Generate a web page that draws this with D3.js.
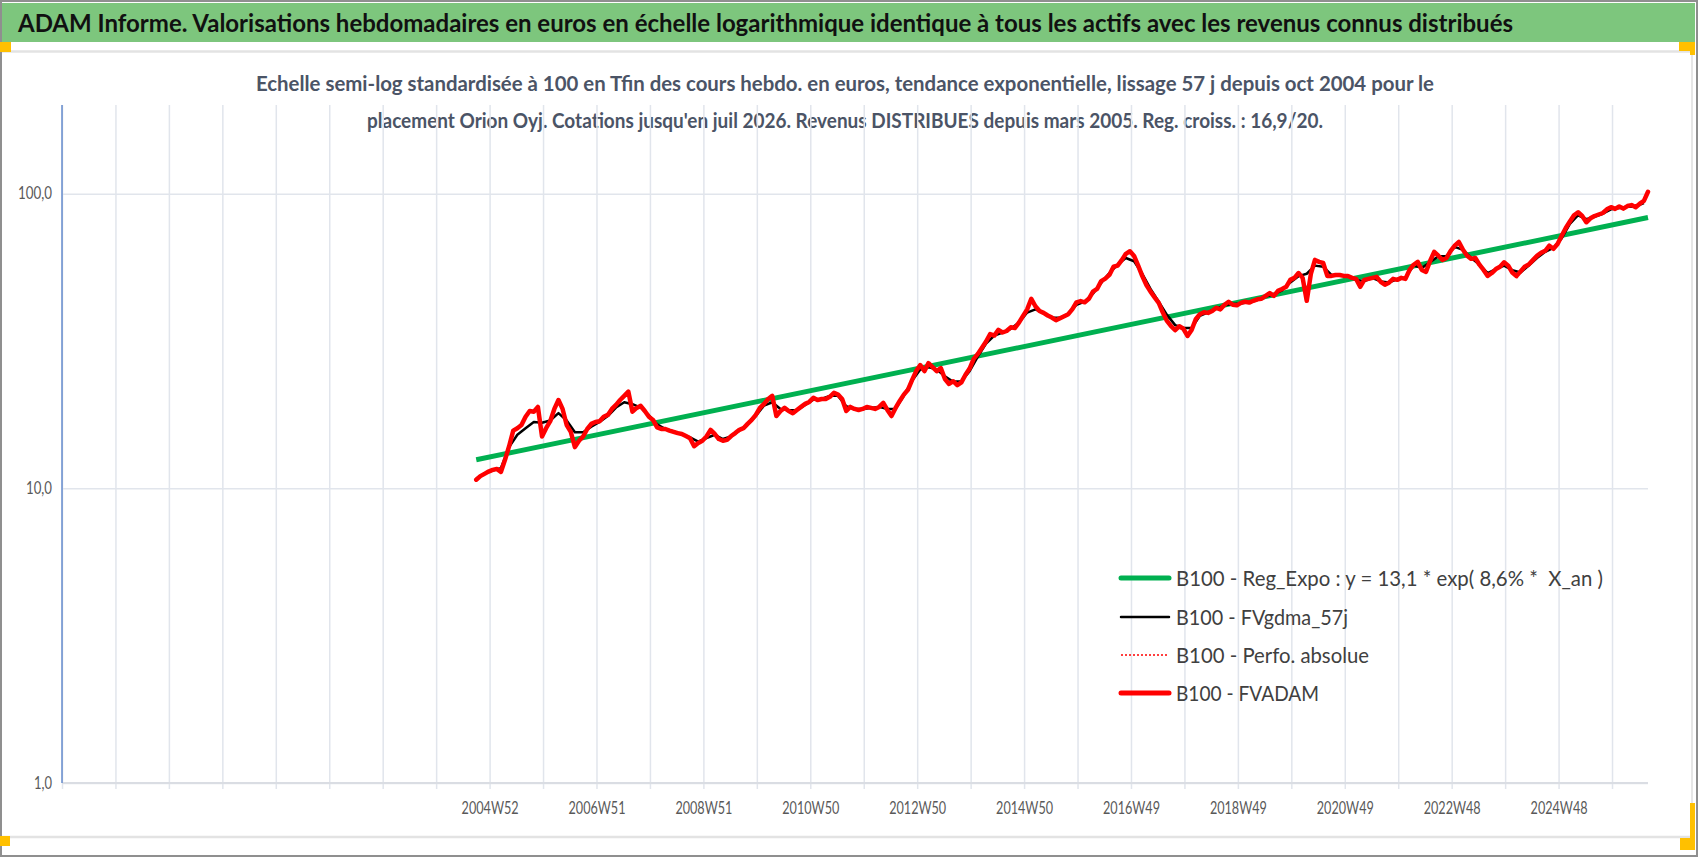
<!DOCTYPE html>
<html><head><meta charset="utf-8">
<script src="https://cdn.jsdelivr.net/npm/d3@7"></script>
<style>html,body{margin:0;padding:0;background:#fff;overflow:hidden}text{white-space:pre}</style>
</head><body><svg id="c" width="1698" height="857"></svg>
<script>
// ---------------- data ----------------
const titleText = "ADAM Informe. Valorisations hebdomadaires en euros en échelle logarithmique identique à tous les actifs avec les revenus connus distribués";
const subtitleLines = [
  "Echelle semi-log standardisée à 100 en Tfin des cours hebdo. en euros, tendance exponentielle, lissage 57 j depuis oct 2004 pour le",
  "placement Orion Oyj. Cotations jusqu'en juil 2026. Revenus DISTRIBUES depuis mars 2005. Reg. croiss. : 16,9/20."
];
// x axis: weekly categories (index in weeks from the start of the category axis)
const axisWeeks = [0, 1543];
const gridStepWeeks = 52;
const xTickWeeks = [416, 520, 624, 728, 832, 936, 1040, 1144, 1248, 1352, 1456];
const xTickLabels = ["2004W52","2006W51","2008W51","2010W50","2012W50","2014W50","2016W49","2018W49","2020W49","2022W48","2024W48"];
const yDomain = [1, 200];
const yTickValues = [1, 10, 100];
const yTickLabels = ["1,0", "10,0", "100,0"];
const legendLabels = [
  "B100 - Reg_Expo : y = 13,1 * exp( 8,6% *  X_an )",
  "B100 - FVgdma_57j",
  "B100 - Perfo. absolue",
  "B100 - FVADAM"
];
// B100 - FVADAM : one value every 4 weeks from week 403
const fvadamStartWeek = 403, fvadamStepWeeks = 4;
const fvadamValues = [
 10.7, 11.0, 11.2, 11.4, 11.55, 11.64, 11.37, 12.5, 13.9, 15.7,
 16.0, 16.4, 17.5, 18.3, 18.2, 18.9, 15.0, 16.0, 16.9, 18.6,
 19.95, 18.6, 16.4, 15.55, 13.8, 14.5, 15.0, 15.9, 16.55, 16.8,
 16.9, 17.5, 17.75, 18.6, 19.2, 19.95, 20.6, 21.3, 18.2, 18.75,
 19.05, 18.3, 17.5, 17.07, 16.1, 15.9, 15.9, 15.7, 15.55, 15.4,
 15.3, 15.05, 14.8, 13.9, 14.25, 14.5, 15.0, 15.8, 15.3, 14.7,
 14.5, 14.6, 15.05, 15.4, 15.8, 16.0, 16.55, 17.07, 17.75, 18.75,
 19.35, 20.1, 20.6, 17.6, 18.3, 18.75, 18.3, 18.0, 18.45, 18.9,
 19.35, 19.65, 20.3, 19.95, 20.1, 20.1, 20.45, 21.1, 20.8, 20.1,
 18.3, 18.9, 18.6, 18.45, 18.6, 18.9, 18.75, 18.6, 18.9, 19.5,
 18.45, 17.6, 18.75, 19.8, 20.8, 21.6, 23.3, 25.0, 26.2, 25.0,
 26.6, 25.8, 25.0, 25.6, 23.5, 22.6, 23.1, 22.4, 22.9, 24.3,
 25.5, 27.5, 28.6, 30.0, 31.5, 33.4, 33.0, 34.5, 33.8, 34.2,
 35.2, 35.0, 36.5, 38.5, 40.5, 44.0, 41.5, 40.0, 39.4, 38.6,
 38.0, 37.2, 37.8, 38.4, 39.0, 40.6, 42.8, 43.2, 42.8, 44.0,
 46.5, 47.5, 50.5, 51.5, 53.0, 56.5, 57.0, 59.5, 62.5, 63.8,
 61.5, 57.0, 52.5, 49.0, 46.5, 44.5, 42.6, 39.5, 37.0, 35.5,
 34.4, 35.5, 34.8, 32.9, 34.5, 37.5, 39.0, 39.6, 39.4, 40.0,
 41.0, 40.5, 42.0, 43.0, 42.0, 41.8, 42.6, 43.0, 42.7, 43.3,
 43.8, 44.0, 45.0, 46.0, 45.0, 46.8, 47.5, 48.3, 51.0, 51.8,
 53.8, 51.8, 43.3, 53.4, 59.6, 58.7, 58.2, 52.6, 52.6, 53.0,
 53.0, 52.6, 52.6, 51.8, 51.4, 48.3, 51.0, 51.4, 51.8, 52.2,
 50.2, 49.1, 49.9, 51.4, 51.0, 51.8, 51.4, 55.1, 57.4, 58.7,
 55.1, 54.3, 59.1, 63.5, 61.6, 59.6, 60.5, 64.0, 66.6, 68.6,
 64.5, 61.6, 60.1, 60.5, 57.4, 55.1, 52.6, 53.8, 55.5, 56.5,
 58.5, 57.0, 54.0, 52.5, 54.5, 56.5, 57.5, 59.5, 61.5, 63.0,
 64.0, 66.6, 65.0, 67.5, 72.0, 76.5, 80.5, 84.5, 86.5, 84.0,
 80.0, 82.5, 84.0, 85.0, 86.0, 88.5, 90.0, 88.8, 90.5, 89.0,
 90.8, 91.5, 90.0, 92.5, 94.5, 101.5
];
// B100 - Perfo. absolue (same path as FVADAM, drawn dotted underneath)
const perfoValues = fvadamValues.slice();
// B100 - FVgdma_57j : one value every 8 weeks from week 403
const gdmaStartWeek = 403, gdmaStepWeeks = 8;
const gdmaValues = [
 10.8, 11.2, 11.5, 11.7, 13.8, 15.2, 16.0, 16.8, 16.7, 17.0,
 18.0, 17.0, 15.5, 15.5, 16.2, 16.8, 17.6, 18.8, 19.6, 19.3,
 18.8, 17.7, 16.5, 15.9, 15.6, 15.3, 14.9, 14.4, 14.8, 15.2,
 14.7, 15.0, 15.7, 16.5, 17.6, 19.1, 19.6, 18.6, 18.4, 18.4,
 19.2, 20.0, 20.1, 20.6, 20.6, 19.0, 18.6, 18.6, 18.75, 18.9,
 18.6, 18.6, 20.6, 23.2, 25.3, 25.8, 25.3, 24.0, 23.0, 23.1,
 25.0, 28.0, 31.0, 33.0, 33.8, 34.8, 36.5, 39.5, 40.5, 39.3,
 38.0, 37.9, 39.0, 42.0, 43.0, 45.8, 49.8, 53.8, 57.5, 60.5,
 59.0, 53.5, 47.5, 43.0, 38.8, 35.8, 35.0, 35.0, 38.5, 39.6,
 40.7, 41.8, 42.2, 42.4, 42.9, 43.6, 44.8, 45.5, 47.0, 50.0,
 52.5, 53.5, 57.0, 56.5, 53.0, 53.0, 52.5, 51.0, 50.5, 51.7,
 50.4, 50.0, 51.2, 52.0, 57.0, 56.0, 58.5, 61.3, 61.5, 66.0,
 64.5, 60.5, 57.5, 53.8, 55.5, 57.0, 55.0, 54.0, 57.0, 60.5,
 63.5, 65.5, 70.5, 79.0, 84.5, 82.0, 83.5, 85.5, 88.5, 89.5,
 90.3, 90.5, 93.0
];
// B100 - Reg_Expo (straight on the log scale)
const regWeeks = [403, 1543];
const regValues = [12.5, 83.0];

// ---------------- drawing ----------------
const svg = d3.select("#c");
const FONT = "Lato, 'Open Sans', 'Noto Sans', sans-serif";
const W = 1698, H = 857;
const plot = {left: 62, right: 1648, top: 105, bottom: 783};

const x = d3.scaleLinear().domain(axisWeeks).range([plot.left, plot.right]);
const y = d3.scaleLog().domain(yDomain).range([plot.bottom, plot.top]);

// background & frames
svg.append("rect").attr("x",0).attr("y",0).attr("width",W).attr("height",H).attr("fill","#fff");
svg.append("rect").attr("x",2).attr("y",3).attr("width",1693).attr("height",39).attr("fill","#7dc67d");
svg.append("line").attr("x1",0).attr("x2",1692).attr("y1",51.5).attr("y2",51.5).attr("stroke","#e3e3e3").attr("stroke-width",2.5);
svg.append("line").attr("x1",1692).attr("x2",1692).attr("y1",51).attr("y2",838).attr("stroke","#dedede").attr("stroke-width",1.5);
svg.append("line").attr("x1",0).attr("x2",1692).attr("y1",837).attr("y2",837).attr("stroke","#e3e3e3").attr("stroke-width",2.5);
svg.append("rect").attr("x",1).attr("y",1).attr("width",W-2).attr("height",H-2).attr("fill","none").attr("stroke","#8f8f8f").attr("stroke-width",2);
const orange = "#ffc000";
[[0,42,11,10],[1679,42,16,9],[1690,42,5,13],[1690,803,5,36],[1680,838,15,12],[0,836,10,10]].forEach(r=>{
  svg.append("rect").attr("x",r[0]).attr("y",r[1]).attr("width",r[2]).attr("height",r[3]).attr("fill",orange);
});

// title
svg.append("text").attr("x",18).attr("y",32).attr("font-family",FONT).attr("font-size",24).attr("font-weight",700)
  .attr("fill","#111").attr("textLength",1495).attr("lengthAdjust","spacingAndGlyphs").text(titleText);
const subW = [1178, 956];
const subY = [91, 128];
subtitleLines.forEach((t,i)=>{
  svg.append("text").attr("x",845 - subW[i]/2).attr("y",subY[i]).attr("font-family",FONT).attr("font-size",21)
    .attr("font-weight",700).attr("fill","#4b5466").attr("textLength",subW[i]).attr("lengthAdjust","spacingAndGlyphs").text(t);
});

// grid
const gridWeeks = d3.range(axisWeeks[0], axisWeeks[1], gridStepWeeks);
const gx = svg.append("g").attr("transform",`translate(0,${plot.bottom})`)
  .call(d3.axisBottom(x).tickValues(gridWeeks).tickFormat("").tickSizeOuter(0));
gx.select(".domain").remove();
gx.selectAll(".tick line").attr("y1",6).attr("y2",plot.top-plot.bottom).attr("stroke","#e1e5ec").attr("stroke-width",1.5);

const gy = svg.append("g").attr("transform",`translate(${plot.left},0)`)
  .call(d3.axisLeft(y).tickValues(yTickValues).tickFormat("").tickSize(-(plot.right-plot.left)).tickSizeOuter(0));
gy.select(".domain").remove();
gy.selectAll(".tick line").attr("stroke","#e1e5ec").attr("stroke-width",1.5);
// x axis line
svg.append("line").attr("x1",plot.left).attr("x2",plot.right).attr("y1",plot.bottom).attr("y2",plot.bottom).attr("stroke","#dadde3").attr("stroke-width",2);
// y axis line
svg.append("line").attr("x1",plot.left).attr("x2",plot.left).attr("y1",plot.top).attr("y2",plot.bottom).attr("stroke","#4472c4").attr("stroke-width",1.2);

// y labels
const yLabelW = [18, 26, 34];
const yl = svg.append("g").attr("transform",`translate(${plot.left},0)`)
  .call(d3.axisLeft(y).tickValues(yTickValues).tickFormat((d,i)=>yTickLabels[i]).tickSize(0).tickPadding(10));
yl.select(".domain").remove();
yl.selectAll("text").attr("font-family",FONT).attr("font-size",16.5).attr("fill","#595959")
  .attr("textLength",(d,i)=>yLabelW[i]).attr("lengthAdjust","spacingAndGlyphs");

// x labels
const xl = svg.append("g").attr("transform",`translate(0,${plot.bottom})`)
  .call(d3.axisBottom(x).tickValues(xTickWeeks).tickFormat((d,i)=>xTickLabels[i]).tickSize(0));
xl.select(".domain").remove();
xl.selectAll("text").attr("y",31).attr("dy",null).attr("font-family",FONT).attr("font-size",18).attr("fill","#595959")
  .attr("textLength",57).attr("lengthAdjust","spacingAndGlyphs");

// series
const series = svg.append("g");
const lineFrom = (start, step) => d3.line().x((d,i)=>x(start + i*step)).y(d=>y(d));
series.append("path").datum(regValues)
  .attr("d", d3.line().x((d,i)=>x(regWeeks[i])).y(d=>y(d)))
  .attr("fill","none").attr("stroke","#00b050").attr("stroke-width",5);
series.append("path").datum(gdmaValues).attr("d", lineFrom(gdmaStartWeek,gdmaStepWeeks))
  .attr("fill","none").attr("stroke","#000").attr("stroke-width",2.5).attr("stroke-linejoin","round");
series.append("path").datum(perfoValues).attr("d", lineFrom(fvadamStartWeek,fvadamStepWeeks))
  .attr("fill","none").attr("stroke","#ff0000").attr("stroke-width",1.5).attr("stroke-dasharray","2,2");
series.append("path").datum(fvadamValues).attr("d", lineFrom(fvadamStartWeek,fvadamStepWeeks))
  .attr("fill","none").attr("stroke","#ff0000").attr("stroke-width",4.5).attr("stroke-linejoin","round").attr("stroke-linecap","round");

// legend
const legStyles = [
  {c:"#00b050", w:5, dash:null},
  {c:"#000000", w:2.5, dash:null},
  {c:"#ff0000", w:1.5, dash:"2,2"},
  {c:"#ff0000", w:5, dash:null}
];
const legY = [578, 617, 655, 693];
const legTL = [427, 172, 193, 143];
const leg = svg.append("g");
legendLabels.forEach((t,i)=>{
  const s = legStyles[i];
  const ln = leg.append("line").attr("x1",1121).attr("x2",1169).attr("y1",legY[i]).attr("y2",legY[i])
    .attr("stroke",s.c).attr("stroke-width",s.w).attr("stroke-linecap", s.dash ? "butt" : "round");
  if (s.dash) ln.attr("stroke-dasharray", s.dash);
  leg.append("text").attr("x",1176).attr("y",legY[i]).attr("dy","0.36em").attr("font-family",FONT)
    .attr("font-size",22).attr("fill","#404040").attr("textLength",legTL[i]).attr("lengthAdjust","spacingAndGlyphs").text(t);
});
</script>
</body></html>
